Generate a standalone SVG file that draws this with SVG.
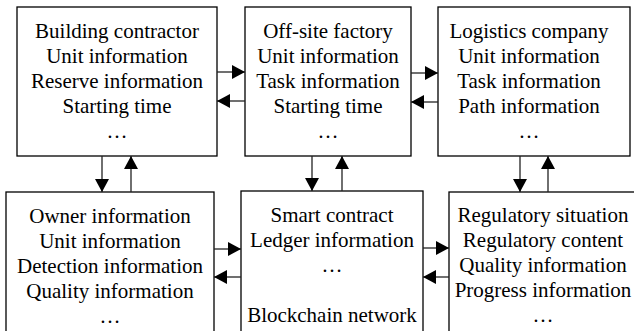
<svg xmlns="http://www.w3.org/2000/svg" width="634" height="331" viewBox="0 0 634 331">
  <style>
    .box { fill: #fff; stroke: #000; stroke-width: 1.3; }
    .link { stroke: #222; stroke-width: 1.3; fill: none; marker-end: url(#head); }
  </style>
  <defs>
    <marker id="head" markerUnits="userSpaceOnUse" markerWidth="14" markerHeight="14" refX="13" refY="7" orient="auto">
      <path d="M0,0 L13,7 L0,14 Z" fill="#000"/>
    </marker>
  </defs>

  <rect width="634" height="331" fill="#fff"/>

  <g font-family="Liberation Serif, Times New Roman, DejaVu Serif, serif" font-size="21" text-anchor="middle" fill="#000">
  <!-- top row -->
  <g id="building-contractor">
    <rect class="box" x="17" y="7" width="200" height="149"/>
    <text x="117" y="38">Building contractor</text>
    <text x="117" y="63">Unit information</text>
    <text x="117" y="88">Reserve information</text>
    <text x="117" y="113">Starting time</text>
    <text x="117" y="138">…</text>
  </g>

  <g id="offsite-factory">
    <rect class="box" x="245" y="7" width="166" height="149"/>
    <text x="328" y="38">Off-site factory</text>
    <text x="328" y="63">Unit information</text>
    <text x="328" y="88">Task information</text>
    <text x="328" y="113">Starting time</text>
    <text x="328" y="138">…</text>
  </g>

  <g id="logistics-company">
    <rect class="box" x="438" y="7" width="192" height="149"/>
    <text x="529" y="38">Logistics company</text>
    <text x="529" y="63">Unit information</text>
    <text x="529" y="88">Task information</text>
    <text x="529" y="113">Path information</text>
    <text x="529" y="138">…</text>
  </g>

  <!-- bottom row -->
  <g id="owner">
    <rect class="box" x="6" y="192" width="208" height="150"/>
    <text x="110" y="223">Owner information</text>
    <text x="110" y="248">Unit information</text>
    <text x="110" y="273">Detection information</text>
    <text x="110" y="298">Quality information</text>
    <text x="110" y="323">…</text>
  </g>

  <g id="blockchain-network">
    <rect class="box" x="241" y="191" width="182" height="151"/>
    <text x="332" y="222">Smart contract</text>
    <text x="332" y="247">Ledger information</text>
    <text x="332" y="272">…</text>
    <text x="332" y="322">Blockchain network</text>
  </g>

  <g id="regulator">
    <rect class="box" x="449" y="192" width="200" height="150"/>
    <text x="543" y="222">Regulatory situation</text>
    <text x="543" y="247">Regulatory content</text>
    <text x="543" y="272">Quality information</text>
    <text x="543" y="297">Progress information</text>
    <text x="543" y="322">…</text>
  </g>
  </g>

  <!-- connectors -->
  <g id="connectors">
    <line class="link" x1="217" y1="72" x2="245" y2="72"/>
    <line class="link" x1="245" y1="101" x2="217" y2="101"/>
    <line class="link" x1="411" y1="73" x2="438" y2="73"/>
    <line class="link" x1="438" y1="102" x2="411" y2="102"/>

    <line class="link" x1="102" y1="156" x2="102" y2="192"/>
    <line class="link" x1="131" y1="192" x2="131" y2="156"/>
    <line class="link" x1="312" y1="156" x2="312" y2="191"/>
    <line class="link" x1="342" y1="191" x2="342" y2="156"/>
    <line class="link" x1="520" y1="156" x2="520" y2="192"/>
    <line class="link" x1="548" y1="192" x2="548" y2="156"/>

    <line class="link" x1="214" y1="249" x2="241" y2="249"/>
    <line class="link" x1="241" y1="277" x2="214" y2="277"/>
    <line class="link" x1="423" y1="248" x2="449" y2="248"/>
    <line class="link" x1="449" y1="277" x2="423" y2="277"/>
  </g>
</svg>
